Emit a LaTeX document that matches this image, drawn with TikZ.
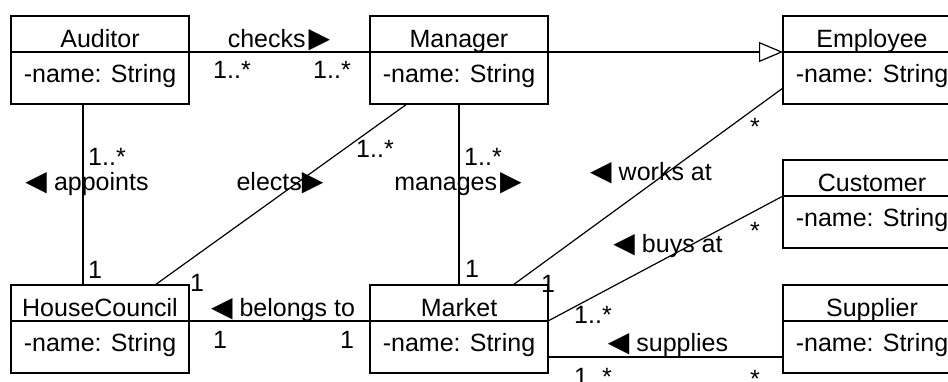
\documentclass[tikz,border=0pt]{standalone}
\usepackage{fontspec}
\setmainfont{Liberation Sans}
\newfontfamily\symbfont{DejaVu Sans}
\usetikzlibrary{arrows.meta,positioning}
\newcommand{\trileft}{{\symbfont\fontsize{28}{28}\selectfont ◀}}
\newcommand{\triright}{{\symbfont\fontsize{28}{28}\selectfont ▶}}

\begin{document}
\begin{tikzpicture}[x=1pt,y=-1pt,line width=1.2pt,
    every node/.style={font=\fontsize{25}{30}\selectfont},
    cname/.style={draw,outer sep=0pt,inner sep=0pt,minimum width=178pt,
      minimum height=36pt,text height=26pt,text depth=0pt},
    cattr/.style={draw,outer sep=0pt,inner sep=0pt,minimum width=178pt,
      minimum height=52pt,text height=17pt,text depth=9pt},
    lbl/.style={anchor=base,inner sep=0pt}]
  \useasboundingbox (0,0) rectangle (948,381);
  \clip (0,0) rectangle (948,381);

  % classes
  \node[cname] (aud) at (100,34) {Auditor};
  \node[cattr,below=0pt of aud] (auda) {-name: String};
  \node[cname] (man) at (459,34) {Manager};
  \node[cattr,below=0pt of man] (mana) {-name: String};
  \node[cname] (emp) at (872,34) {Employee};
  \node[cattr,below=0pt of emp] (empa) {-name: String};
  \node[cname] (cus) at (872,178) {Customer};
  \node[cattr,below=0pt of cus] (cusa) {-name: String};
  \node[cname] (hc) at (100,303) {HouseCouncil};
  \node[cattr,below=0pt of hc] (hca) {-name: String};
  \node[cname] (mkt) at (459,303) {Market};
  \node[cattr,below=0pt of mkt] (mkta) {-name: String};
  \node[cname] (sup) at (872,303) {Supplier};
  \node[cattr,below=0pt of sup] (supa) {-name: String};

  % associations
  \draw (aud.south east) -- (man.south west);
  \draw[-{Triangle[open,length=24pt,width=20pt]}] (man.south east) -- (emp.south west);
  \draw ([xshift=-17pt]auda.south) -- ([xshift=-17pt]hc.north);
  \draw ([xshift=-52pt]mana.south) -- ([xshift=55pt]hc.north);
  \draw (mana.south) -- (mkt.north);
  \draw ([yshift=16pt]empa.south west) -- ([xshift=54pt]mkt.north);
  \draw (cus.south west) -- (mkt.south east);
  \draw ([yshift=16pt]mkta.south east) -- ([yshift=16pt]supa.south west);
  \draw (hc.south east) -- (mkt.south west);

  % labels
  \node[lbl] (checks) at (279,47) {checks\kern3pt\triright};
  \node[lbl] (checks-a) at (232,78) {1..*};
  \node[lbl] (checks-b) at (332,78) {1..*};
  \node[lbl] (appoints) at (87,190) {\trileft\kern7pt appoints};
  \node[lbl] (appoints-a) at (107,165) {1..*};
  \node[lbl] (appoints-b) at (95,278) {1};
  \node[lbl] (elects) at (280,190) {elects\triright};
  \node[lbl] (elects-a) at (375,157) {1..*};
  \node[lbl] (elects-b) at (197,291) {1};
  \node[lbl] (manages) at (458,190) {manages\kern3pt\triright};
  \node[lbl] (manages-a) at (483,165) {1..*};
  \node[lbl] (manages-b) at (472,277) {1};
  \node[lbl] (worksat) at (651,180) {\trileft\kern7pt works at};
  \node[lbl] (worksat-a) at (755,135) {*};
  \node[lbl] (worksat-b) at (548,292) {1};
  \node[lbl] (buysat) at (668,252) {\trileft\kern7pt buys at};
  \node[lbl] (buysat-a) at (755,239) {*};
  \node[lbl] (buysat-b) at (593,323) {1..*};
  \node[lbl] (supplies) at (668,351) {\trileft\kern7pt supplies};
  \node[lbl] (supplies-a) at (593,385) {1..*};
  \node[lbl] (supplies-b) at (755,387) {*};
  \node[lbl] (belongs) at (283,316) {\trileft\kern7pt belongs to};
  \node[lbl] (belongs-a) at (220,348) {1};
  \node[lbl] (belongs-b) at (347,348) {1};
\end{tikzpicture}
\end{document}
